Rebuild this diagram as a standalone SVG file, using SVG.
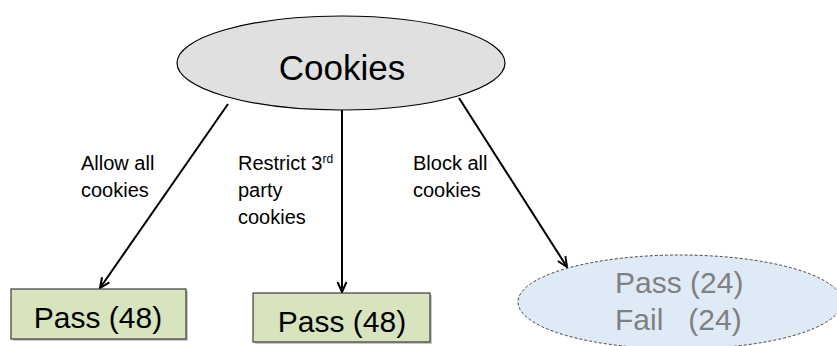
<svg xmlns="http://www.w3.org/2000/svg" width="837" height="346" viewBox="0 0 837 346">
  <defs>
    <style>
      text { font-family: "Liberation Sans", Arial, sans-serif; fill: #000; }
      .lbl { font-size: 20px; }
      .node { font-size: 30px; }
      .box { fill: #D7E4BD; stroke: #3a3a3a; stroke-width: 1.2; }
      .shadow { fill: #c8c8c8; }
      .edge { stroke: #000; stroke-width: 2; fill: none; marker-end: url(#arrow); }
    </style>
    <marker id="arrow" viewBox="0 0 12 12" refX="11" refY="6" markerWidth="12" markerHeight="12" markerUnits="userSpaceOnUse" orient="auto">
      <path d="M1,1.5 L11,6 L1,10.5" fill="none" stroke="#000" stroke-width="2"/>
    </marker>
  </defs>

  <rect width="837" height="346" fill="#fff"/>

  <g id="connectors">
    <line class="edge" x1="228" y1="104" x2="100" y2="288"/>
    <line class="edge" x1="342" y1="110" x2="342" y2="292"/>
    <line class="edge" x1="459" y1="98" x2="567" y2="267"/>
  </g>

  <g id="edge-labels">
    <text class="lbl" x="81" y="170">Allow all</text>
    <text class="lbl" x="81" y="197">cookies</text>
    <text class="lbl" x="238" y="170">Restrict 3<tspan dy="-7" font-size="12">rd</tspan></text>
    <text class="lbl" x="238" y="197">party</text>
    <text class="lbl" x="238" y="224">cookies</text>
    <text class="lbl" x="413" y="170">Block all</text>
    <text class="lbl" x="413" y="197">cookies</text>
  </g>

  <g id="cookies">
    <ellipse cx="341" cy="63" rx="164" ry="47" fill="#E0E0E0" stroke="#000" stroke-width="1.2"/>
    <text x="342" y="80" font-size="35" text-anchor="middle">Cookies</text>
  </g>

  <g id="allow-all">
    <rect class="shadow" x="13" y="291" width="175" height="50"/>
    <rect class="box" x="11" y="289" width="175" height="50"/>
    <text class="node" x="98" y="328" text-anchor="middle">Pass (48)</text>
  </g>

  <g id="restrict-third-party">
    <rect class="shadow" x="255" y="295" width="177" height="49"/>
    <rect class="box" x="253" y="293" width="177" height="49"/>
    <text class="node" x="342" y="332" text-anchor="middle">Pass (48)</text>
  </g>

  <g id="block-all">
    <ellipse cx="680" cy="302" rx="162" ry="47" fill="#DEEBF7" stroke="#444" stroke-width="1" stroke-dasharray="3,2"/>
    <text class="node" x="615" y="293" style="fill:#808080">Pass (24)</text>
    <text class="node" x="615" y="330" style="fill:#808080" xml:space="preserve">Fail   (24)</text>
  </g>
</svg>
